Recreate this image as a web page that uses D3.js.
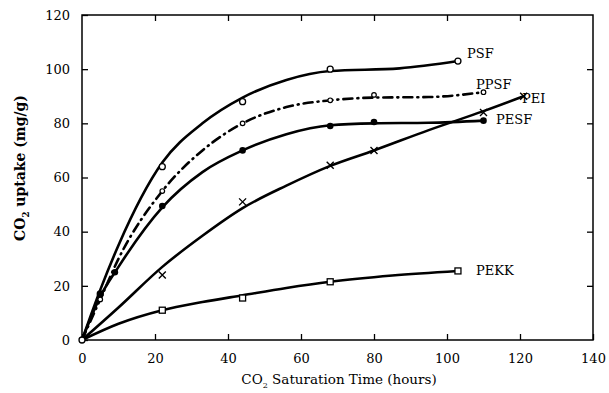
<!DOCTYPE html>
<html><head><meta charset="utf-8">
<script src="https://cdn.jsdelivr.net/npm/d3@7"></script>
<style>body{margin:0;background:#fff}svg{display:block}svg text{font-family:'DejaVu Serif','Liberation Serif',serif !important;fill:#000}</style>
</head><body><svg id="c" width="609" height="393"></svg>
<script>
const xTicks=[0,20,40,60,80,100,120,140];
const yTicks=[0,20,40,60,80,100,120];
const seriesNames=["PSF","PPSF","PESF","PEI","PEKK"];
// measured points
const psf=[[0,0],[5,17],[22,64],[44,88],[68,100],[103,103]];
const ppsf=[[0,0],[5,15],[22,55],[44,80],[68,88.5],[80,90.5],[110,91.5]];
const pesf=[[0,0],[5,17],[9,25],[22,49.5],[44,70],[68,79],[80,80.5],[110,81]];
const pei=[[0,0],[22,24],[44,51],[68,64.5],[80,70],[110,84],[121,90]];
const pekk=[[0,0],[22,11],[44,15.5],[68,21.5],[103,25.5]];
// fitted curves
const psfFit=[[0,0],[5,18.5],[10,35],[22,65.5],[33,80],[44,89.5],[56,96],[68,99.3],[87,100.3],[103,103]];
const ppsfFit=[[0,0],[5,15],[10,30],[22,55],[33,70],[44,80],[56,86],[68,88.5],[80,89.5],[95,89.7],[110,91.5]];
const pesfFit=[[0,0],[5,16],[10,27],[22,49],[33,62],[44,70],[56,76],[68,79.3],[80,80],[95,80.2],[110,81]];
const peiFit=[[0,0],[10,12],[22,27],[33,38.5],[44,48.7],[56,57],[68,64.3],[80,70],[95,77.5],[110,84.5],[121,90]];
const pekkFit=[[0,0],[10,6],[22,11],[33,14],[44,16.5],[56,19.2],[68,21.5],[85,23.8],[103,25.5]];

const svg=d3.select("#c");
const L=82,R=593,T=15,B=340;
const x=d3.scaleLinear().domain([0,140]).range([L,R]);
const y=d3.scaleLinear().domain([0,120]).range([B,T]);

svg.append("rect").attr("x",L).attr("y",T).attr("width",R-L).attr("height",B-T)
  .attr("fill","none").attr("stroke","#000").attr("stroke-width",1.5);
svg.append("g").attr("transform",`translate(0,${B})`)
  .call(d3.axisBottom(x).tickValues(xTicks).tickSizeInner(-6).tickSizeOuter(0).tickPadding(14));
svg.append("g").attr("transform",`translate(${L},0)`)
  .call(d3.axisLeft(y).tickValues(yTicks).tickSizeInner(-6).tickSizeOuter(0).tickPadding(12));
svg.append("g").attr("transform",`translate(0,${T})`)
  .call(d3.axisTop(x).tickValues(xTicks.slice(1,-1)).tickSizeInner(-6).tickSizeOuter(0).tickFormat(""));
svg.append("g").attr("transform",`translate(${R},0)`)
  .call(d3.axisRight(y).tickValues(yTicks.slice(1,-1)).tickSizeInner(-6).tickSizeOuter(0).tickFormat(""));
svg.selectAll(".domain").remove();
svg.selectAll("g").attr("font-family",null);
svg.selectAll(".tick line").attr("stroke","#000").attr("stroke-width",1.3);
svg.selectAll(".tick text").attr("font-size",13).attr("fill","#000");

const line=d3.line().x(d=>x(d[0])).y(d=>y(d[1])).curve(d3.curveMonotoneX);
[psfFit,ppsfFit,pesfFit,peiFit,pekkFit].forEach((s,i)=>{
  svg.append("path").attr("d",line(s)).attr("fill","none").attr("stroke","#000")
    .attr("stroke-width",2.6).attr("stroke-linecap","round")
    .attr("stroke-dasharray",i===1?"9,5,1,5":null);
});
const pt=(s)=>s.slice(1);
svg.selectAll(".m0").data(pt(psf)).enter().append("circle")
  .attr("cx",d=>x(d[0])).attr("cy",d=>y(d[1])).attr("r",3).attr("fill","#fff").attr("stroke","#000").attr("stroke-width",1.3);
svg.selectAll(".m1").data(pt(ppsf)).enter().append("circle")
  .attr("cx",d=>x(d[0])).attr("cy",d=>y(d[1])).attr("r",2.3).attr("fill","#fff").attr("stroke","#000").attr("stroke-width",1.2);
svg.selectAll(".m2").data(pt(pesf)).enter().append("circle")
  .attr("cx",d=>x(d[0])).attr("cy",d=>y(d[1])).attr("r",3.3).attr("fill","#000");
svg.selectAll(".m3").data(pt(pei)).enter().append("path")
  .attr("d",d=>{const a=x(d[0]),b=y(d[1]),s=3.5;return `M${a-s},${b-s}L${a+s},${b+s}M${a-s},${b+s}L${a+s},${b-s}`;})
  .attr("stroke","#000").attr("stroke-width",1.4);
svg.selectAll(".m4").data(pt(pekk)).enter().append("rect")
  .attr("x",d=>x(d[0])-3).attr("y",d=>y(d[1])-3).attr("width",6).attr("height",6)
  .attr("fill","#fff").attr("stroke","#000").attr("stroke-width",1.3);
svg.append("circle").attr("cx",x(0)).attr("cy",y(0)).attr("r",3).attr("fill","#fff").attr("stroke","#000").attr("stroke-width",1.3);

const labPos=[[467,58],[476,89],[496,124],[522,103],[476,275]];
seriesNames.forEach((n,i)=>{
  svg.append("text").attr("x",labPos[i][0]).attr("y",labPos[i][1]).attr("font-size",13).text(n);
});

const xt=svg.append("text").attr("x",339).attr("y",384).attr("text-anchor","middle").attr("font-size",13.5);
xt.append("tspan").text("CO");
xt.append("tspan").attr("font-size",8).attr("dy",4).text("2");
xt.append("tspan").attr("dy",-4).text(" Saturation Time (hours)");
const yt=svg.append("text").attr("transform","translate(25,168) rotate(-90)").attr("text-anchor","middle")
  .attr("font-size",14).attr("font-weight","bold");
yt.append("tspan").text("CO");
yt.append("tspan").attr("font-size",8.5).attr("dy",4).text("2");
yt.append("tspan").attr("dy",-4).text(" uptake (mg/g)");
</script></body></html>
